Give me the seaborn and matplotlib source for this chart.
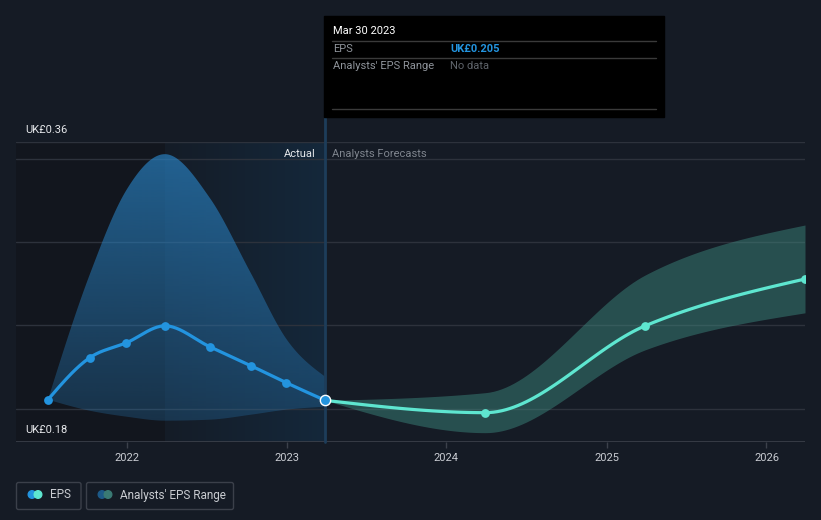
import numpy as np
import pandas as pd
import matplotlib
matplotlib.use("Agg")
import matplotlib.pyplot as plt
import matplotlib.dates as mdates
from matplotlib.patches import FancyBboxPatch, Rectangle, Circle
import seaborn as sns

# ---------------- data ----------------
hist_dates = ["2021-07-05", "2021-10-08", "2021-12-31", "2022-03-29",
              "2022-07-10", "2022-10-12", "2022-12-31", "2023-03-30"]
hist_eps = [0.2054, 0.2305, 0.2395, 0.2497, 0.2371, 0.2257, 0.2156, 0.205]
hist_high = [0.2054, 0.2802, 0.3311, 0.3527, 0.3263, 0.2810, 0.2420, 0.2192]
hist_low = [0.2054, 0.1988, 0.1952, 0.1928, 0.1934, 0.1964, 0.1994, 0.2012]

fc_dates = ["2023-03-30", "2024-03-30", "2025-03-30", "2026-03-30"]
fc_eps = [0.205, 0.1976, 0.2497, 0.2778]
fc_high = [0.205, 0.2096, 0.2802, 0.3102]
fc_low = [0.205, 0.1856, 0.2353, 0.2575]

grid_values = [0.20, 0.25, 0.30, 0.35, 0.36]
y_min, y_max = 0.18, 0.36
y_labels = ["UK£0.36", "UK£0.18"]
x_start, x_end = "2021-04-23", "2026-03-30"
split_date = "2022-03-29"
today = "2023-03-30"

BG = "#151b25"
BLUE = "#2394df"
MINT = "#5ee6d0"


def monotone(x, y, n=40):
    x = np.asarray(x, float)
    y = np.asarray(y, float)
    h = np.diff(x)
    s = np.diff(y) / h
    m = np.zeros(len(x))
    if len(x) == 2:
        m[:] = s[0]
    else:
        for i in range(1, len(x) - 1):
            p = (s[i - 1] * h[i] + s[i] * h[i - 1]) / (h[i - 1] + h[i])
            m[i] = (np.sign(s[i - 1]) + np.sign(s[i])) * min(abs(s[i - 1]), abs(s[i]), 0.5 * abs(p))
        m[0] = (3 * s[0] - m[1]) / 2
        m[-1] = (3 * s[-1] - m[-2]) / 2
    xs, ys = [], []
    for i in range(len(x) - 1):
        t = np.linspace(0, 1, n)
        h00 = 2 * t**3 - 3 * t**2 + 1
        h10 = t**3 - 2 * t**2 + t
        h01 = -2 * t**3 + 3 * t**2
        h11 = t**3 - t**2
        yy = h00 * y[i] + h10 * h[i] * m[i] + h01 * y[i + 1] + h11 * h[i] * m[i + 1]
        xx = x[i] + t * h[i]
        if i > 0:
            xx, yy = xx[1:], yy[1:]
        xs.append(xx)
        ys.append(yy)
    return np.concatenate(xs), np.concatenate(ys)


def d2n(lst):
    return mdates.date2num(pd.to_datetime(lst).to_pydatetime())


hx = d2n(hist_dates)
fx = d2n(fc_dates)

# ---------------- figure ----------------
sns.set_style("dark")
plt.rcParams["font.family"] = ["Roboto", "DejaVu Sans"]
W, H = 821, 520
fig = plt.figure(figsize=(W / 100, H / 100), dpi=100, facecolor=BG)
ax = fig.add_axes([16 / W, (H - 442) / H, (805 - 16) / W, (442 - 142) / H])
ax.set_facecolor(BG)
for sp in ax.spines.values():
    sp.set_visible(False)

x0, x1 = d2n([x_start])[0], d2n([x_end])[0]
xs_split = d2n([split_date])[0]
xs_today = d2n([today])[0]
ax.set_xlim(x0, x1)
ax.set_ylim(y_min, y_max)

# background shading of past period
ax.add_patch(Rectangle((x0, y_min), xs_split - x0, y_max - y_min, color="#12161e", zorder=0, lw=0))
grad = np.zeros((1, 100, 4))
c0 = np.array(matplotlib.colors.to_rgb("#141c27"))
c1 = np.array(matplotlib.colors.to_rgb("#15283b"))
for i in range(100):
    grad[0, i, :3] = c0 + (c1 - c0) * i / 99
    grad[0, i, 3] = 1
ax.imshow(grad, extent=[xs_split, xs_today, y_min, y_max], aspect="auto", origin="lower", zorder=0.5)

# grid
for g in grid_values:
    ax.axhline(g, color="#2d323c", lw=1, zorder=1)
ax.axhline(y_min, color="#3c414b", lw=1.2, zorder=1)

# historical range with vertical gradient
ux, uy = monotone(hx, hist_high)
lx, ly = monotone(hx, hist_low)
poly = ax.fill_between(ux, uy, np.interp(ux, lx, ly), color="none", lw=0, zorder=2)
n = 200
gimg = np.zeros((n, 1, 4))
gimg[:, 0, :3] = matplotlib.colors.to_rgb("#2a85c8")
gimg[:, 0, 3] = np.linspace(0.22, 0.68, n)
im = ax.imshow(gimg, extent=[x0, x1, y_min, y_max], aspect="auto", origin="lower", zorder=2)
im.set_clip_path(poly.get_paths()[0], transform=ax.transData)

# forecast range
fux, fuy = monotone(fx, fc_high)
flx, fly = monotone(fx, fc_low)
ax.fill_between(fux, fuy, np.interp(fux, flx, fly), color="#3f8f84", alpha=0.45, lw=0, zorder=2)

# vertical "today" line
ax.plot([xs_today, xs_today], [y_min, 0.3745], color="#1d3d5a", lw=2, zorder=3, clip_on=False)

# lines
hlx, hly = monotone(hx, hist_eps)
flx2, fly2 = monotone(fx, fc_eps)
sns.lineplot(x=flx2, y=fly2, ax=ax, color=MINT, lw=2.3, zorder=4, sort=False)
sns.lineplot(x=hlx, y=hly, ax=ax, color=BLUE, lw=2.3, zorder=5, sort=False)
sns.scatterplot(x=hx[:-1], y=hist_eps[:-1], ax=ax, color=BLUE, s=40, lw=0, zorder=6)
sns.scatterplot(x=fx[1:], y=fc_eps[1:], ax=ax, color=MINT, s=40, lw=0, zorder=6)
ax.scatter([hx[-1]], [hist_eps[-1]], s=55, color=BLUE, edgecolor="white", lw=1.0, zorder=7, clip_on=False)

# axes ticks
ax.xaxis.set_major_locator(mdates.YearLocator())
ax.xaxis.set_major_formatter(mdates.DateFormatter("%Y"))
ax.tick_params(axis="x", colors="#3c414b", labelcolor="#c9ccd2", labelsize=8, length=4, width=1, pad=4, bottom=True)
ax.set_yticks([])
ax.set_xlabel("")
ax.set_ylabel("")
ax.grid(False)

# ---------------- overlay (annotations) ----------------
ov = fig.add_axes([0, 0, 1, 1])
ov.set_xlim(0, W)
ov.set_ylim(H, 0)
ov.axis("off")

ov.text(25, 130, y_labels[0], color="#e6e8eb", fontsize=8, va="center", ha="left")
ov.text(25, 430, y_labels[1], color="#e6e8eb", fontsize=8, va="center", ha="left")
ov.text(316, 154, "Actual", color="#e6e8eb", fontsize=8, va="center", ha="right")
ov.text(332, 154, "Analysts Forecasts", color="#7f858e", fontsize=8, va="center", ha="left")

# tooltip
ov.add_patch(Rectangle((324, 16), 340, 101, color="#000000", zorder=10))
for yy in (41, 58, 109):
    ov.plot([332, 656], [yy, yy], color="#3a3a3a", lw=1, zorder=11)
ov.text(333, 31, "Mar 30 2023", color="#ffffff", fontsize=8, va="center", zorder=12)
ov.text(333, 49, "EPS", color="#8f949b", fontsize=8, va="center", zorder=12)
ov.text(450, 49, "UK£0.205", color=BLUE, fontsize=8, fontweight="bold", va="center", zorder=12)
ov.text(333, 66, "Analysts' EPS Range", color="#8f949b", fontsize=8, va="center", zorder=12)
ov.text(450, 66, "No data", color="#5f646b", fontsize=8, va="center", zorder=12)

# legend
ov.add_patch(FancyBboxPatch((16.5, 482.5), 64.5, 27, boxstyle="round,pad=0,rounding_size=2",
                            fc="none", ec="#3b404a", lw=1))
ov.add_patch(FancyBboxPatch((86.5, 482.5), 147, 27, boxstyle="round,pad=0,rounding_size=2",
                            fc="none", ec="#3b404a", lw=1))
ov.add_patch(Circle((32, 494.5), 3.8, color=BLUE, zorder=3))
ov.add_patch(Circle((38, 494.5), 3.8, color=MINT, zorder=4))
ov.text(50, 495, "EPS", color="#c9ccd1", fontsize=8.5, va="center")
ov.add_patch(Circle((102, 494.5), 3.8, color="#1d5a88", zorder=3))
ov.add_patch(Circle((108, 494.5), 3.8, color="#3a7a74", zorder=4))
ov.text(120, 495, "Analysts' EPS Range", color="#c9ccd1", fontsize=8.5, va="center")

fig.savefig("out.png", dpi=100, facecolor=BG)
